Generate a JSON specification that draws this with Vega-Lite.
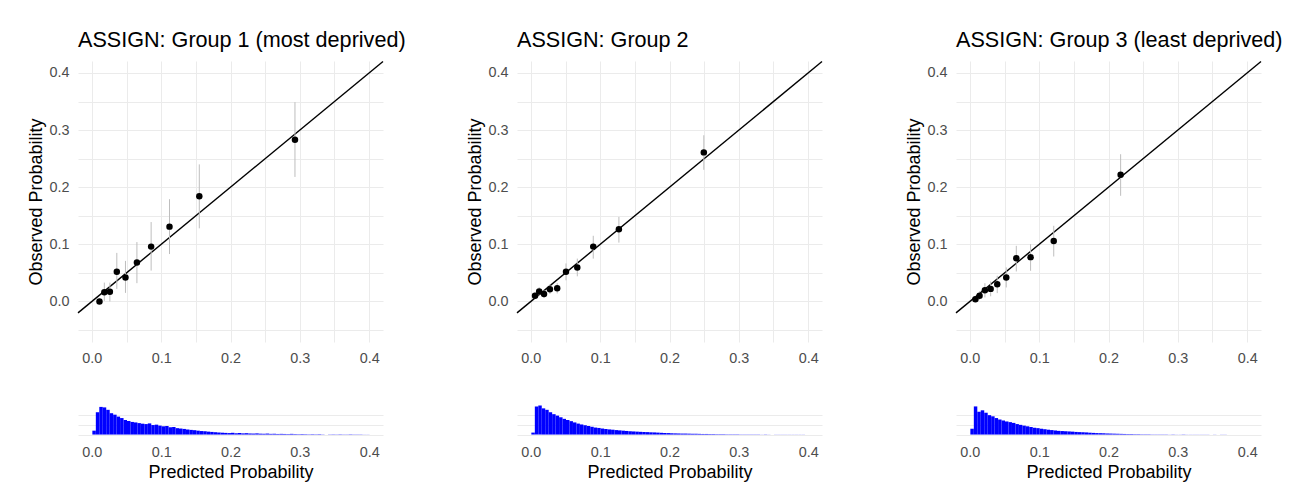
{
"$schema": "https://vega.github.io/schema/vega-lite/v6.json",
"padding": {"left": 27, "top": 30, "right": 0, "bottom": 0},
"background": "white",
"config": {
  "font": "Liberation Sans",
  "view": {"stroke": null},
  "axis": {"domain": false, "ticks": false, "tickCount": 30, "gridColor": "#EBEBEB", "gridWidth": 1, "labelColor": "#4D4D4D", "labelFontSize": 14.4, "labelFont": "Liberation Sans", "titleFont": "Liberation Sans", "titleFontSize": 18, "titleFontWeight": "normal", "titleColor": "#000000", "labelPadding": 9, "titlePadding": 5, "labelFlush": false, "labelOverlap": false},
  "axisY": {"titlePadding": 3},
  "title": {"font": "Liberation Sans", "fontSize": 21.6, "fontWeight": "normal", "color": "#000000", "anchor": "start", "frame": "group", "offset": 7}
},
"datasets": {
  "diag": [{"x": -0.02, "y": -0.02}, {"x": 0.42, "y": 0.42}],
  "pts": [
    {"g": 1, "x": 0.011, "y": 0.0, "lo": 0.0, "hi": 0.005},
    {"g": 1, "x": 0.018, "y": 0.016, "lo": 0.001, "hi": 0.033},
    {"g": 1, "x": 0.026, "y": 0.017, "lo": 0.0, "hi": 0.033},
    {"g": 1, "x": 0.036, "y": 0.052, "lo": 0.022, "hi": 0.085},
    {"g": 1, "x": 0.0485, "y": 0.042, "lo": 0.015, "hi": 0.071},
    {"g": 1, "x": 0.065, "y": 0.068, "lo": 0.032, "hi": 0.104},
    {"g": 1, "x": 0.0855, "y": 0.096, "lo": 0.054, "hi": 0.139},
    {"g": 1, "x": 0.112, "y": 0.131, "lo": 0.083, "hi": 0.179},
    {"g": 1, "x": 0.155, "y": 0.184, "lo": 0.128, "hi": 0.24},
    {"g": 1, "x": 0.293, "y": 0.283, "lo": 0.218, "hi": 0.349},
    {"g": 2, "x": 0.006, "y": 0.01, "lo": 0.004, "hi": 0.016},
    {"g": 2, "x": 0.012, "y": 0.0175, "lo": 0.01, "hi": 0.025},
    {"g": 2, "x": 0.019, "y": 0.013, "lo": 0.006, "hi": 0.02},
    {"g": 2, "x": 0.0275, "y": 0.0215, "lo": 0.013, "hi": 0.03},
    {"g": 2, "x": 0.038, "y": 0.023, "lo": 0.014, "hi": 0.032},
    {"g": 2, "x": 0.0507, "y": 0.052, "lo": 0.037, "hi": 0.0665},
    {"g": 2, "x": 0.067, "y": 0.0595, "lo": 0.044, "hi": 0.075},
    {"g": 2, "x": 0.09, "y": 0.096, "lo": 0.075, "hi": 0.115},
    {"g": 2, "x": 0.127, "y": 0.1266, "lo": 0.103, "hi": 0.148},
    {"g": 2, "x": 0.2495, "y": 0.261, "lo": 0.2305, "hi": 0.291},
    {"g": 3, "x": 0.008, "y": 0.004, "lo": 0.0, "hi": 0.009},
    {"g": 3, "x": 0.014, "y": 0.01, "lo": 0.003, "hi": 0.018},
    {"g": 3, "x": 0.0217, "y": 0.0198, "lo": 0.007, "hi": 0.032},
    {"g": 3, "x": 0.03, "y": 0.022, "lo": 0.009, "hi": 0.035},
    {"g": 3, "x": 0.0395, "y": 0.03, "lo": 0.0146, "hi": 0.045},
    {"g": 3, "x": 0.0525, "y": 0.042, "lo": 0.0245, "hi": 0.0595},
    {"g": 3, "x": 0.067, "y": 0.0758, "lo": 0.0525, "hi": 0.0974},
    {"g": 3, "x": 0.0876, "y": 0.0776, "lo": 0.0537, "hi": 0.1003},
    {"g": 3, "x": 0.121, "y": 0.106, "lo": 0.0787, "hi": 0.1325},
    {"g": 3, "x": 0.2175, "y": 0.2217, "lo": 0.185, "hi": 0.2578}
  ],
  "hist": [
    {"g":1,"b":0.000,"n":40},{"g":1,"b":0.005,"n":230},{"g":1,"b":0.010,"n":285},{"g":1,"b":0.015,"n":280},{"g":1,"b":0.020,"n":255},{"g":1,"b":0.025,"n":220},{"g":1,"b":0.030,"n":205},{"g":1,"b":0.035,"n":185},{"g":1,"b":0.040,"n":170},{"g":1,"b":0.045,"n":150},
    {"g":1,"b":0.050,"n":140},{"g":1,"b":0.055,"n":130},{"g":1,"b":0.060,"n":125},{"g":1,"b":0.065,"n":118},{"g":1,"b":0.070,"n":112},{"g":1,"b":0.075,"n":108},{"g":1,"b":0.080,"n":115},{"g":1,"b":0.085,"n":98},{"g":1,"b":0.090,"n":102},{"g":1,"b":0.095,"n":92},
    {"g":1,"b":0.100,"n":85},{"g":1,"b":0.105,"n":88},{"g":1,"b":0.110,"n":75},{"g":1,"b":0.115,"n":78},{"g":1,"b":0.120,"n":66},{"g":1,"b":0.125,"n":62},{"g":1,"b":0.130,"n":58},{"g":1,"b":0.135,"n":52},{"g":1,"b":0.140,"n":48},{"g":1,"b":0.145,"n":45},
    {"g":1,"b":0.150,"n":40},{"g":1,"b":0.155,"n":36},{"g":1,"b":0.160,"n":33},{"g":1,"b":0.165,"n":30},{"g":1,"b":0.170,"n":27},{"g":1,"b":0.175,"n":24},{"g":1,"b":0.180,"n":21},{"g":1,"b":0.185,"n":19},{"g":1,"b":0.190,"n":17},{"g":1,"b":0.195,"n":15},
    {"g":1,"b":0.200,"n":18},{"g":1,"b":0.205,"n":13},{"g":1,"b":0.210,"n":16},{"g":1,"b":0.215,"n":12},{"g":1,"b":0.220,"n":14},{"g":1,"b":0.225,"n":11},{"g":1,"b":0.230,"n":10},{"g":1,"b":0.235,"n":12},{"g":1,"b":0.240,"n":9},{"g":1,"b":0.245,"n":8},
    {"g":1,"b":0.250,"n":10},{"g":1,"b":0.255,"n":7},{"g":1,"b":0.260,"n":8},{"g":1,"b":0.265,"n":6},{"g":1,"b":0.270,"n":7},{"g":1,"b":0.275,"n":6},{"g":1,"b":0.280,"n":5},{"g":1,"b":0.285,"n":7},{"g":1,"b":0.290,"n":5},{"g":1,"b":0.295,"n":4},
    {"g":1,"b":0.300,"n":5},{"g":1,"b":0.305,"n":4},{"g":1,"b":0.310,"n":3},{"g":1,"b":0.315,"n":4},{"g":1,"b":0.320,"n":3},{"g":1,"b":0.325,"n":4},{"g":1,"b":0.330,"n":2},{"g":1,"b":0.335,"n":0},{"g":1,"b":0.340,"n":2},{"g":1,"b":0.345,"n":3},
    {"g":1,"b":0.350,"n":2},{"g":1,"b":0.355,"n":3},{"g":1,"b":0.360,"n":2},{"g":1,"b":0.365,"n":2},{"g":1,"b":0.370,"n":3},{"g":1,"b":0.375,"n":2},{"g":1,"b":0.380,"n":2},{"g":1,"b":0.385,"n":2},{"g":1,"b":0.390,"n":1},{"g":1,"b":0.395,"n":1},
    {"g":2,"b":0.000,"n":20},{"g":2,"b":0.005,"n":290},{"g":2,"b":0.010,"n":300},{"g":2,"b":0.015,"n":270},{"g":2,"b":0.020,"n":255},{"g":2,"b":0.025,"n":230},{"g":2,"b":0.030,"n":210},{"g":2,"b":0.035,"n":195},{"g":2,"b":0.040,"n":178},{"g":2,"b":0.045,"n":162},
    {"g":2,"b":0.050,"n":150},{"g":2,"b":0.055,"n":138},{"g":2,"b":0.060,"n":125},{"g":2,"b":0.065,"n":113},{"g":2,"b":0.070,"n":104},{"g":2,"b":0.075,"n":96},{"g":2,"b":0.080,"n":88},{"g":2,"b":0.085,"n":80},{"g":2,"b":0.090,"n":72},{"g":2,"b":0.095,"n":68},
    {"g":2,"b":0.100,"n":62},{"g":2,"b":0.105,"n":57},{"g":2,"b":0.110,"n":53},{"g":2,"b":0.115,"n":50},{"g":2,"b":0.120,"n":46},{"g":2,"b":0.125,"n":43},{"g":2,"b":0.130,"n":40},{"g":2,"b":0.135,"n":37},{"g":2,"b":0.140,"n":34},{"g":2,"b":0.145,"n":32},
    {"g":2,"b":0.150,"n":30},{"g":2,"b":0.155,"n":28},{"g":2,"b":0.160,"n":26},{"g":2,"b":0.165,"n":25},{"g":2,"b":0.170,"n":23},{"g":2,"b":0.175,"n":22},{"g":2,"b":0.180,"n":20},{"g":2,"b":0.185,"n":18},{"g":2,"b":0.190,"n":16},{"g":2,"b":0.195,"n":15},
    {"g":2,"b":0.200,"n":13},{"g":2,"b":0.205,"n":12},{"g":2,"b":0.210,"n":11},{"g":2,"b":0.215,"n":10},{"g":2,"b":0.220,"n":10},{"g":2,"b":0.225,"n":9},{"g":2,"b":0.230,"n":8},{"g":2,"b":0.235,"n":8},{"g":2,"b":0.240,"n":7},{"g":2,"b":0.245,"n":6},
    {"g":2,"b":0.250,"n":6},{"g":2,"b":0.255,"n":5},{"g":2,"b":0.260,"n":5},{"g":2,"b":0.265,"n":4},{"g":2,"b":0.270,"n":4},{"g":2,"b":0.275,"n":4},{"g":2,"b":0.280,"n":3},{"g":2,"b":0.285,"n":3},{"g":2,"b":0.290,"n":3},{"g":2,"b":0.295,"n":3},
    {"g":2,"b":0.300,"n":2},{"g":2,"b":0.305,"n":2},{"g":2,"b":0.310,"n":2},{"g":2,"b":0.315,"n":2},{"g":2,"b":0.320,"n":2},{"g":2,"b":0.325,"n":2},{"g":2,"b":0.330,"n":1},{"g":2,"b":0.335,"n":2},{"g":2,"b":0.340,"n":1},{"g":2,"b":0.345,"n":1},
    {"g":2,"b":0.350,"n":1},{"g":2,"b":0.355,"n":1},{"g":2,"b":0.360,"n":1},{"g":2,"b":0.365,"n":1},{"g":2,"b":0.370,"n":1},{"g":2,"b":0.375,"n":1},{"g":2,"b":0.380,"n":1},{"g":2,"b":0.385,"n":1},{"g":2,"b":0.390,"n":1},{"g":2,"b":0.395,"n":0},
    {"g":3,"b":0.000,"n":60},{"g":3,"b":0.005,"n":290},{"g":3,"b":0.010,"n":235},{"g":3,"b":0.015,"n":250},{"g":3,"b":0.020,"n":225},{"g":3,"b":0.025,"n":200},{"g":3,"b":0.030,"n":188},{"g":3,"b":0.035,"n":170},{"g":3,"b":0.040,"n":155},{"g":3,"b":0.045,"n":145},
    {"g":3,"b":0.050,"n":135},{"g":3,"b":0.055,"n":128},{"g":3,"b":0.060,"n":120},{"g":3,"b":0.065,"n":108},{"g":3,"b":0.070,"n":100},{"g":3,"b":0.075,"n":92},{"g":3,"b":0.080,"n":85},{"g":3,"b":0.085,"n":78},{"g":3,"b":0.090,"n":70},{"g":3,"b":0.095,"n":66},
    {"g":3,"b":0.100,"n":60},{"g":3,"b":0.105,"n":55},{"g":3,"b":0.110,"n":50},{"g":3,"b":0.115,"n":46},{"g":3,"b":0.120,"n":42},{"g":3,"b":0.125,"n":38},{"g":3,"b":0.130,"n":36},{"g":3,"b":0.135,"n":34},{"g":3,"b":0.140,"n":32},{"g":3,"b":0.145,"n":30},
    {"g":3,"b":0.150,"n":27},{"g":3,"b":0.155,"n":25},{"g":3,"b":0.160,"n":24},{"g":3,"b":0.165,"n":22},{"g":3,"b":0.170,"n":19},{"g":3,"b":0.175,"n":17},{"g":3,"b":0.180,"n":15},{"g":3,"b":0.185,"n":14},{"g":3,"b":0.190,"n":13},{"g":3,"b":0.195,"n":11},
    {"g":3,"b":0.200,"n":10},{"g":3,"b":0.205,"n":9},{"g":3,"b":0.210,"n":8},{"g":3,"b":0.215,"n":7},{"g":3,"b":0.220,"n":6},{"g":3,"b":0.225,"n":5},{"g":3,"b":0.230,"n":5},{"g":3,"b":0.235,"n":4},{"g":3,"b":0.240,"n":4},{"g":3,"b":0.245,"n":3},
    {"g":3,"b":0.250,"n":3},{"g":3,"b":0.255,"n":3},{"g":3,"b":0.260,"n":2},{"g":3,"b":0.265,"n":2},{"g":3,"b":0.270,"n":2},{"g":3,"b":0.275,"n":2},{"g":3,"b":0.280,"n":2},{"g":3,"b":0.285,"n":1},{"g":3,"b":0.290,"n":2},{"g":3,"b":0.295,"n":1},
    {"g":3,"b":0.300,"n":1},{"g":3,"b":0.305,"n":2},{"g":3,"b":0.310,"n":1},{"g":3,"b":0.315,"n":1},{"g":3,"b":0.320,"n":1},{"g":3,"b":0.325,"n":1},{"g":3,"b":0.330,"n":1},{"g":3,"b":0.335,"n":1},{"g":3,"b":0.340,"n":1},{"g":3,"b":0.345,"n":1},
    {"g":3,"b":0.350,"n":1},{"g":3,"b":0.355,"n":0},{"g":3,"b":0.360,"n":1},{"g":3,"b":0.365,"n":1},{"g":3,"b":0.370,"n":0}
  ]
},
"bounds": "flush",
"columns": 3,
"spacing": {"row": 62, "column": 134},
"concat": [
    {"width": 305, "height": 281, "title": "ASSIGN: Group 1 (most deprived)",
     "layer": [
      {"data": {"name": "diag"}, "mark": {"type": "line", "color": "#000000", "strokeWidth": 1.4},
       "encoding": {
        "x": {"field": "x", "type": "quantitative", "scale": {"domain": [-0.02, 0.42], "nice": false, "zero": false}, "axis": {"title": null, "tickCount": 30, "values": [0,0.05,0.1,0.15,0.2,0.25,0.3,0.35,0.4], "labelExpr": "round(datum.value*100)%10==0 ? format(datum.value,'.1f') : ''"}},
        "y": {"field": "y", "type": "quantitative", "scale": {"domain": [-0.071, 0.421], "nice": false, "zero": false}, "axis": {"title": "Observed Probability", "tickCount": 30, "values": [-0.05,0,0.05,0.1,0.15,0.2,0.25,0.3,0.35,0.4], "labelExpr": "round(datum.value*100)%10==0 ? format(datum.value,'.1f') : ''"}}}},
      {"data": {"name": "pts"}, "transform": [{"filter": "datum.g==1"}], "mark": {"type": "rule", "color": "#BEBEBE", "strokeWidth": 1},
       "encoding": {"x": {"field": "x", "type": "quantitative"}, "y": {"field": "lo", "type": "quantitative"}, "y2": {"field": "hi"}}},
      {"data": {"name": "pts"}, "transform": [{"filter": "datum.g==1"}], "mark": {"type": "point", "filled": true, "color": "#000000", "opacity": 1, "size": 42},
       "encoding": {"x": {"field": "x", "type": "quantitative"}, "y": {"field": "y", "type": "quantitative"}}}
     ]},
    {"width": 305, "height": 281, "title": "ASSIGN: Group 2",
     "layer": [
      {"data": {"name": "diag"}, "mark": {"type": "line", "color": "#000000", "strokeWidth": 1.4},
       "encoding": {
        "x": {"field": "x", "type": "quantitative", "scale": {"domain": [-0.02, 0.42], "nice": false, "zero": false}, "axis": {"title": null, "tickCount": 30, "values": [0,0.05,0.1,0.15,0.2,0.25,0.3,0.35,0.4], "labelExpr": "round(datum.value*100)%10==0 ? format(datum.value,'.1f') : ''"}},
        "y": {"field": "y", "type": "quantitative", "scale": {"domain": [-0.071, 0.421], "nice": false, "zero": false}, "axis": {"title": "Observed Probability", "tickCount": 30, "values": [-0.05,0,0.05,0.1,0.15,0.2,0.25,0.3,0.35,0.4], "labelExpr": "round(datum.value*100)%10==0 ? format(datum.value,'.1f') : ''"}}}},
      {"data": {"name": "pts"}, "transform": [{"filter": "datum.g==2"}], "mark": {"type": "rule", "color": "#BEBEBE", "strokeWidth": 1},
       "encoding": {"x": {"field": "x", "type": "quantitative"}, "y": {"field": "lo", "type": "quantitative"}, "y2": {"field": "hi"}}},
      {"data": {"name": "pts"}, "transform": [{"filter": "datum.g==2"}], "mark": {"type": "point", "filled": true, "color": "#000000", "opacity": 1, "size": 42},
       "encoding": {"x": {"field": "x", "type": "quantitative"}, "y": {"field": "y", "type": "quantitative"}}}
     ]},
    {"width": 305, "height": 281, "title": "ASSIGN: Group 3 (least deprived)",
     "layer": [
      {"data": {"name": "diag"}, "mark": {"type": "line", "color": "#000000", "strokeWidth": 1.4},
       "encoding": {
        "x": {"field": "x", "type": "quantitative", "scale": {"domain": [-0.02, 0.42], "nice": false, "zero": false}, "axis": {"title": null, "tickCount": 30, "values": [0,0.05,0.1,0.15,0.2,0.25,0.3,0.35,0.4], "labelExpr": "round(datum.value*100)%10==0 ? format(datum.value,'.1f') : ''"}},
        "y": {"field": "y", "type": "quantitative", "scale": {"domain": [-0.071, 0.421], "nice": false, "zero": false}, "axis": {"title": "Observed Probability", "tickCount": 30, "values": [-0.05,0,0.05,0.1,0.15,0.2,0.25,0.3,0.35,0.4], "labelExpr": "round(datum.value*100)%10==0 ? format(datum.value,'.1f') : ''"}}}},
      {"data": {"name": "pts"}, "transform": [{"filter": "datum.g==3"}], "mark": {"type": "rule", "color": "#BEBEBE", "strokeWidth": 1},
       "encoding": {"x": {"field": "x", "type": "quantitative"}, "y": {"field": "lo", "type": "quantitative"}, "y2": {"field": "hi"}}},
      {"data": {"name": "pts"}, "transform": [{"filter": "datum.g==3"}], "mark": {"type": "point", "filled": true, "color": "#000000", "opacity": 1, "size": 42},
       "encoding": {"x": {"field": "x", "type": "quantitative"}, "y": {"field": "y", "type": "quantitative"}}}
     ]},
    {"width": 305, "height": 32, "data": {"name": "hist"}, "transform": [{"filter": "datum.g==1"}],
     "mark": {"type": "bar", "color": "#0000FF", "binSpacing": 0},
     "encoding": {
      "x": {"field": "b", "type": "quantitative", "bin": {"binned": true, "step": 0.005}, "scale": {"domain": [-0.02, 0.42], "nice": false, "zero": false}, "axis": {"title": "Predicted Probability", "tickCount": 30, "values": [0,0.1,0.2,0.3,0.4], "format": ".1f"}},
      "y": {"field": "n", "type": "quantitative", "scale": {"domain": [-15, 315], "nice": false, "zero": false}, "axis": {"title": null, "labels": false, "tickCount": 30, "values": [0,100,200]}}}},
    {"width": 305, "height": 32, "data": {"name": "hist"}, "transform": [{"filter": "datum.g==2"}],
     "mark": {"type": "bar", "color": "#0000FF", "binSpacing": 0},
     "encoding": {
      "x": {"field": "b", "type": "quantitative", "bin": {"binned": true, "step": 0.005}, "scale": {"domain": [-0.02, 0.42], "nice": false, "zero": false}, "axis": {"title": "Predicted Probability", "tickCount": 30, "values": [0,0.1,0.2,0.3,0.4], "format": ".1f"}},
      "y": {"field": "n", "type": "quantitative", "scale": {"domain": [-15, 315], "nice": false, "zero": false}, "axis": {"title": null, "labels": false, "tickCount": 30, "values": [0,100,200]}}}},
    {"width": 305, "height": 32, "data": {"name": "hist"}, "transform": [{"filter": "datum.g==3"}],
     "mark": {"type": "bar", "color": "#0000FF", "binSpacing": 0},
     "encoding": {
      "x": {"field": "b", "type": "quantitative", "bin": {"binned": true, "step": 0.005}, "scale": {"domain": [-0.02, 0.42], "nice": false, "zero": false}, "axis": {"title": "Predicted Probability", "tickCount": 30, "values": [0,0.1,0.2,0.3,0.4], "format": ".1f"}},
      "y": {"field": "n", "type": "quantitative", "scale": {"domain": [-15, 315], "nice": false, "zero": false}, "axis": {"title": null, "labels": false, "tickCount": 30, "values": [0,100,200]}}}}
]
}
